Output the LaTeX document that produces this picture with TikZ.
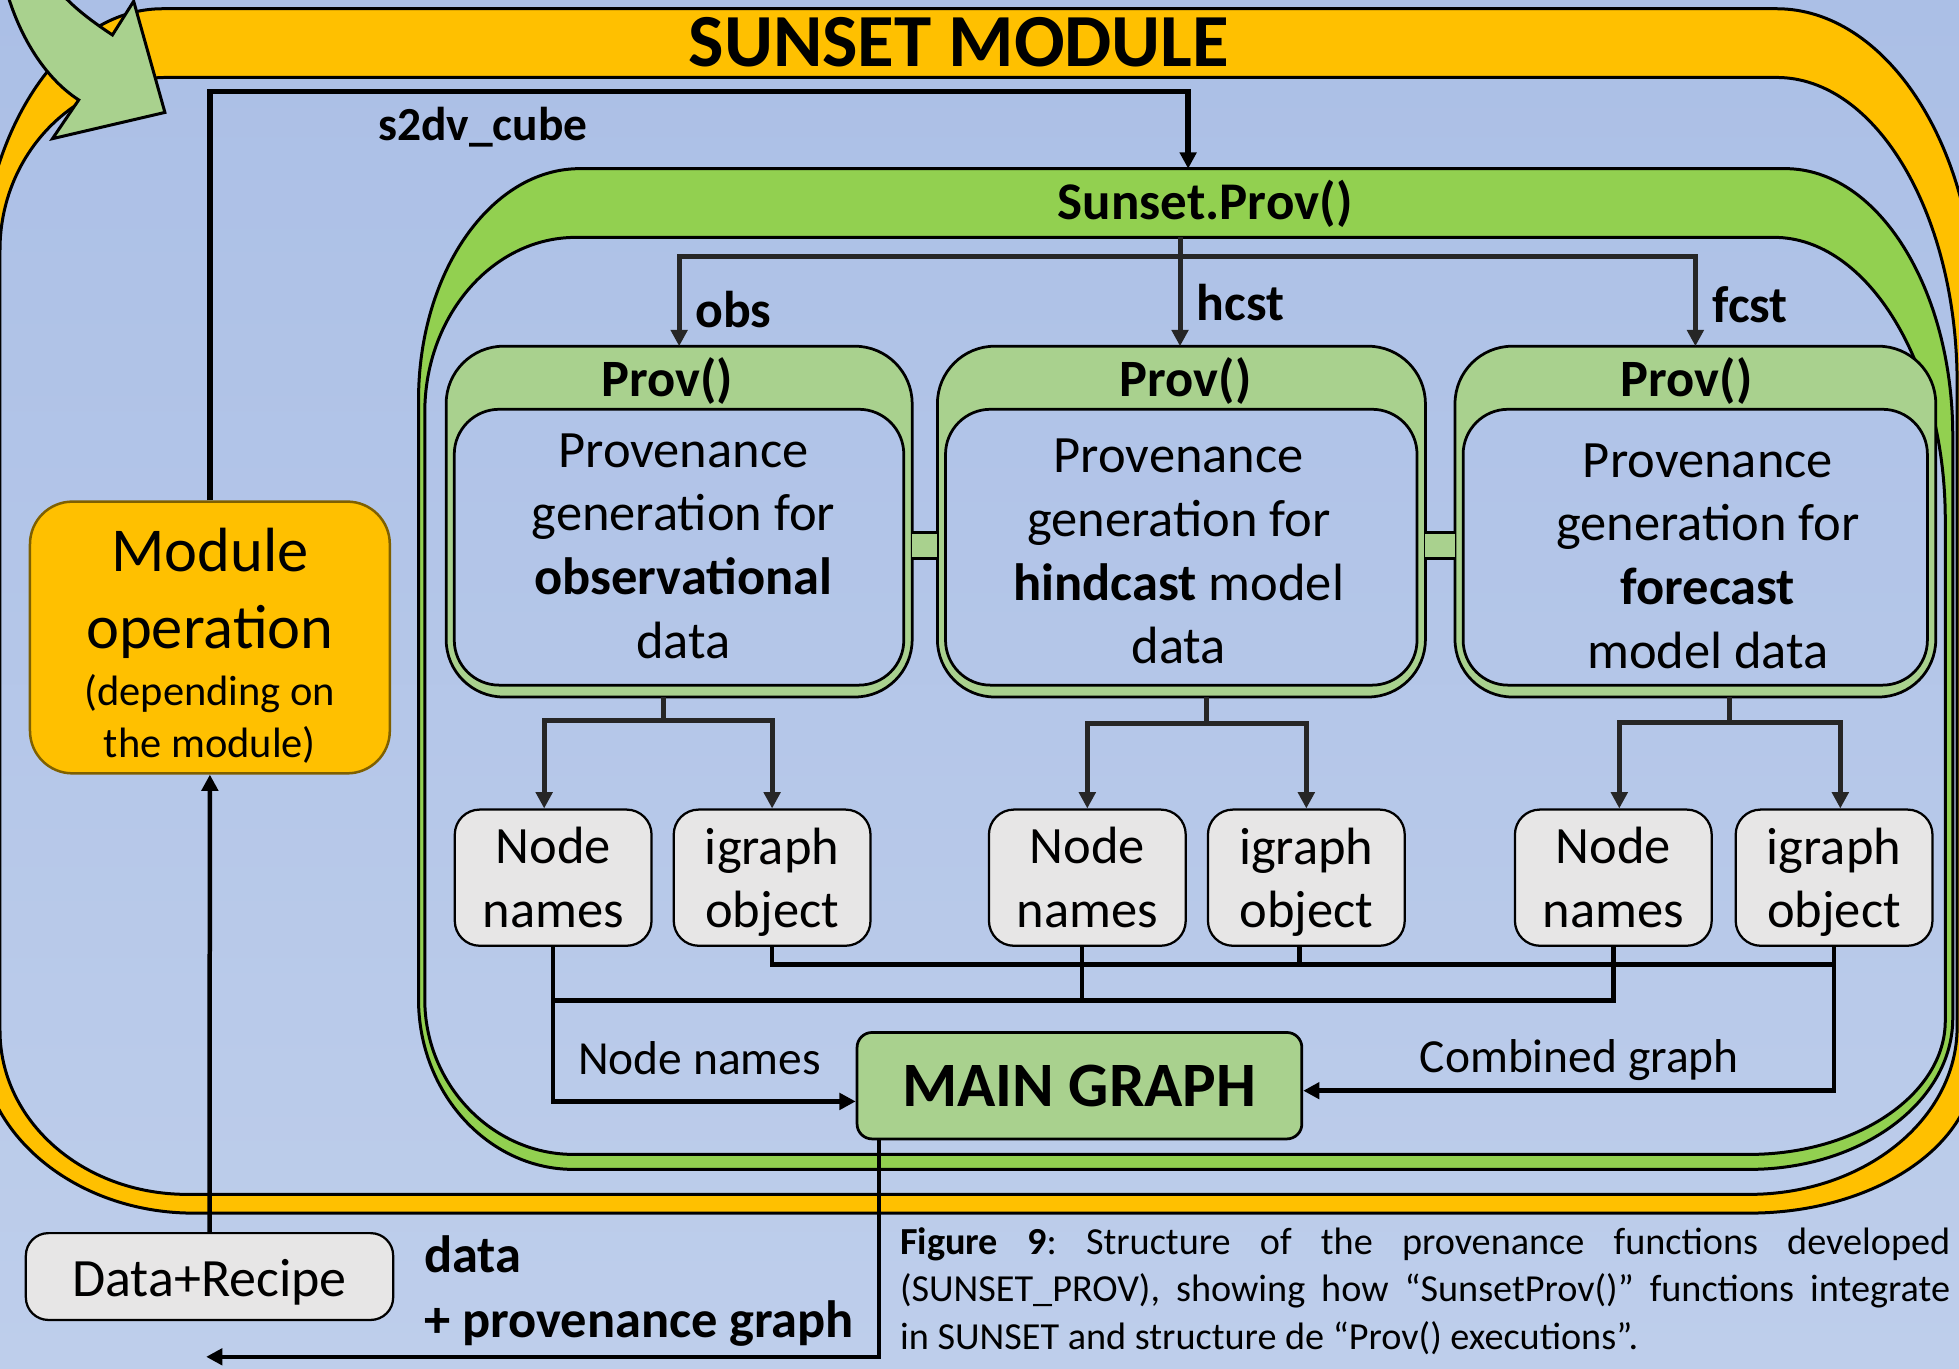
\documentclass[tikz,border=0pt]{standalone}
\usepackage{fontspec}
\setmainfont{Carlito}
\usetikzlibrary{arrows.meta,calc}
\pgfdeclarelayer{back}
\pgfdeclarelayer{ring}
\pgfsetlayers{back,ring,main}
\definecolor{bgtop}{RGB}{171,191,230}
\definecolor{bgbot}{RGB}{190,206,235}
\definecolor{sunyellow}{RGB}{255,192,0}
\definecolor{provgreen}{RGB}{146,208,80}
\definecolor{palegreen}{RGB}{169,209,142}
\definecolor{boxgrey}{RGB}{231,230,230}
\definecolor{modborder}{RGB}{127,96,0}
\definecolor{linegrey}{RGB}{38,38,38}
\newcommand\fsz[2]{\fontsize{#1}{#2}\selectfont}
\newcommand\nodepth[1]{\raisebox{0pt}[\height][0pt]{#1}}
\frenchspacing

\begin{document}
\begin{tikzpicture}[x=0.5pt,y=-0.5pt,
  >={Triangle[width=6.5pt,length=6.5pt]},
  frame/.style={draw=black,line width=1.2pt},
  ringbox/.style={draw=black,line width=1.1pt},
  holder/.style={inner sep=0pt,minimum height=140pt},
  inholder/.style={inner sep=0pt,minimum height=110pt},
  provtext/.style={inner sep=0pt,align=center,font=\fsz{21}{25.5}},
  itembox/.style={draw=black,line width=0.9pt,fill=boxgrey,rounded corners=10pt,
    minimum width=78.75pt,minimum height=54.5pt,inner sep=0pt,align=center,font=\fsz{21}{25.5}},
  feed/.style={draw=linegrey,line width=2pt},
  link/.style={draw=black,line width=1.8pt},
  tag/.style={inner sep=0pt,anchor=base,font=\bfseries\fsz{20.7}{25}},
  head/.style={inner sep=0pt,anchor=base,font=\bfseries\fsz{21}{25}},
  note/.style={inner sep=0pt,anchor=base,font=\fsz{19}{23}}]

\useasboundingbox (0,0) rectangle (1568,1095);

\begin{pgfonlayer}{back}
  \shade[top color=bgtop,bottom color=bgbot] (0,0) rectangle (1568,1095);
  % SUNSET MODULE frame
  \filldraw[fill=sunyellow,frame,even odd rule]
    (-16,230) .. controls (-16,107) and (50,7) .. (130,7) -- (1422,7)
      .. controls (1509,7) and (1581,116) .. (1581,250) -- (1581,850)
      .. controls (1581,917) and (1500,971) .. (1400,971) -- (155,971)
      .. controls (61,971) and (-16,908) .. (-16,830) -- cycle
    (0,200) .. controls (0,124) and (59,62) .. (134,62) -- (1422,62)
      .. controls (1502,62) and (1566.5,172) .. (1566.5,307) -- (1566.5,822)
      .. controls (1566.5,896) and (1492,956) .. (1400,956) -- (150,956)
      .. controls (66,956) and (0,897) .. (0,825) -- cycle;
  % Sunset.Prov() frame
  \filldraw[fill=provgreen,frame,even odd rule]
    (335,320) .. controls (335,218) and (393,135) .. (464,135) -- (1429,135)
      .. controls (1503,135) and (1563,231) .. (1563,349) -- (1563,815)
      .. controls (1563,882) and (1490,936) .. (1400,936) -- (459,936)
      .. controls (391,936) and (335,875) .. (335,800) -- cycle
    (340,330) .. controls (340,253) and (394,190) .. (461,190) -- (1420,190)
      .. controls (1495,190) and (1557,292) .. (1557,416) -- (1557,817)
      .. controls (1557,876) and (1486,924) .. (1400,924) -- (459,924)
      .. controls (394,924) and (340,868) .. (340,800) -- cycle;
\end{pgfonlayer}

% entry arrow into the module
\filldraw[fill=palegreen,frame]
  (2,-20) .. controls (12,25) and (35,62) .. (63,80) -- (42,111) -- (132,90)
  -- (107,1) -- (90,28) .. controls (75,18) and (58,6) .. (45,-10) -- cycle;

\node[inner sep=0pt,anchor=base,font=\bfseries\fsz{30}{36}] (title) at (767.5,53.5) {SUNSET MODULE};

% module operation and its input
\node[draw=modborder,fill=sunyellow,line width=1pt,rounded corners=17pt,
  minimum width=144pt,minimum height=108.75pt,inner sep=0pt,align=center,
  font=\fsz{25}{30.8}] (modop) at (168,510.25)
  {\rule{0pt}{24pt}Module\\operation\\[-8.1pt]{\fsz{17}{17.5}(depending on}\\[-9.8pt]{\fsz{17}{17.5}the module)}};
\node[draw=black,line width=0.9pt,fill=boxgrey,rounded corners=9pt,minimum width=147pt,
  minimum height=34.75pt,inner sep=0pt,font=\fsz{21.6}{26}] (dr) at (167.7,1021.75)
  {\rule{0pt}{19.5pt}Data+Recipe};

% Prov() blocks: outer ring, inner panel, text
\node[holder,minimum width=186.1pt] (p1) at (543.6,417.5) {};
\node[inholder,minimum width=179.5pt] (p1in) at (543.5,438) {};
\node[holder,minimum width=194.9pt] (p2) at (945.6,417.5) {};
\node[inholder,minimum width=188.3pt] (p2in) at (945.5,438) {};
\node[holder,minimum width=192pt] (p3) at (1357,417.5) {};
\node[inholder,minimum width=185.4pt] (p3in) at (1356.9,438) {};

\begin{pgfonlayer}{ring}
  \foreach \o/\i in {p1/p1in,p2/p2in,p3/p3in}{
    \filldraw[fill=palegreen,ringbox,even odd rule]
      [rounded corners=23pt] (\o.north west) rectangle (\o.south east)
      [rounded corners=18pt] (\i.north west) rectangle (\i.south east);
  }
  \fill[palegreen] (p1.east |- 0,426) rectangle (p2.west |- 0,447);
  \fill[palegreen] (p2.east |- 0,426) rectangle (p3.west |- 0,447);
\end{pgfonlayer}
\draw[ringbox] (p1.east |- 0,426) -- (p2.west |- 0,426) (p1.east |- 0,447) -- (p2.west |- 0,447);
\draw[ringbox] (p2.east |- 0,426) -- (p3.west |- 0,426) (p2.east |- 0,447) -- (p3.west |- 0,447);

\node[provtext] (p1t) at (547,437)
  {Provenance\\generation for\\\textbf{observational}\\data};
\node[provtext] (p2t) at (943.5,441.5)
  {Provenance\\generation for\\\textbf{hindcast} model\\data};
\node[provtext] (p3t) at (1367,445)
  {Provenance\\generation for\\\textbf{forecast}\\model data};

\node[head] (p1h) at (534,317) {Prov()};
\node[head] (p2h) at (949,317) {Prov()};
\node[head] (p3h) at (1350,317) {Prov()};

% outputs of each Prov()
\node[itembox] (nn1) at (442.75,702.5) {Node\\names};
\node[itembox] (ig1) at (618,702.5) {igraph\\\nodepth{object}};
\node[itembox] (nn2) at (870.3,702.5) {Node\\names};
\node[itembox] (ig2) at (1045.6,702.5) {igraph\\\nodepth{object}};
\node[itembox] (nn3) at (1291.3,702.5) {Node\\names};
\node[itembox] (ig3) at (1468,702.5) {igraph\\\nodepth{object}};

\node[draw=black,fill=palegreen,line width=1.1pt,rounded corners=6pt,minimum width=178pt,
  minimum height=42.6pt,inner sep=0pt,font=\bfseries\fsz{25.3}{30}] (mg) at (864,869) {MAIN GRAPH};

% s2dv_cube into Sunset.Prov()
\coordinate (spin) at (951,135);
\draw[link,line width=2.2pt,->] (modop.north) |- (spin |- 0,73.4) -- (spin);
\node[tag,font=\bfseries\fsz{19}{23}] (s2dv) at (386.6,112.5) {s2dv\_cube};
\node[head,font=\bfseries\fsz{21.2}{25}] (spl) at (964.6,176) {Sunset.Prov()};

% split into obs / hcst / fcst
\coordinate (spbar) at (944.5,190);
\draw[feed,->] (spbar) -- (spbar |- p2.north);
\draw[feed,->] (spbar |- 0,205) -| (p1.north);
\draw[feed,->] (spbar |- 0,205) -| (p3.north);
\node[tag] (obs) at (587,262) {obs};
\node[tag] (hcst) at (993,256.7) {hcst};
\node[tag] (fcst) at (1401,258) {fcst};

% Prov() results
\draw[feed] ([xshift=-6.3pt]p1.south) -- ++(0,18.5) coordinate (t1);
\draw[feed,->] (t1) -| ([xshift=-3.6pt]nn1.north);
\draw[feed,->] (t1) -| (ig1.north);
\draw[feed] ([xshift=10.2pt]p2.south) -- ++(0,21.5) coordinate (t2);
\draw[feed,->] (t2) -| (nn2.north);
\draw[feed,->] (t2) -| (ig2.north);
\draw[feed] ([xshift=13.5pt]p3.south) -- ++(0,20.5) coordinate (t3);
\draw[feed,->] (t3) -| ([xshift=2.4pt]nn3.north);
\draw[feed,->] (t3) -| ([xshift=2.5pt]ig3.north);

% gathering into the main graph
\draw[link] (ig3.south |- 0,772) -| (ig1.south);
\draw[link] ([xshift=-2.8pt]ig2.south) -- ++(0,15);
\draw[link,->] (ig3.south) |- ([yshift=-2pt]mg.east);
\draw[link] (nn1.south |- 0,801) -| (nn3.south);
\draw[link] ([xshift=-2.1pt]nn2.south) -- ++(0,44);
\draw[link,->] (nn1.south) |- ([yshift=-6.3pt]mg.west);
\node[note] (nnl) at (560,860) {Node names};
\node[note] (cgl) at (1264,858.6) {Combined graph};

% module input and output
\draw[link,->] (dr.north) -- (modop.south);
\coordinate (outend) at (165,1086);
\draw[link,->] ([xshift=-80.2pt]mg.south) |- (outend);
\node[inner sep=0pt,anchor=west,align=left,font=\bfseries\fsz{21}{26}] (outl) at (339,1033)
  {data\\+ provenance graph};

\node[anchor=north west,inner sep=0pt,text width=420.3pt,align=justify,font=\fsz{15.3}{19}] (cap) at (720,982)
  {\textbf{Figure 9}: Structure of the provenance functions developed\linebreak
   (SUNSET\_PROV), showing how “SunsetProv()” functions integrate\linebreak
   in SUNSET and structure de “Prov() executions”.};
\end{tikzpicture}
\end{document}
